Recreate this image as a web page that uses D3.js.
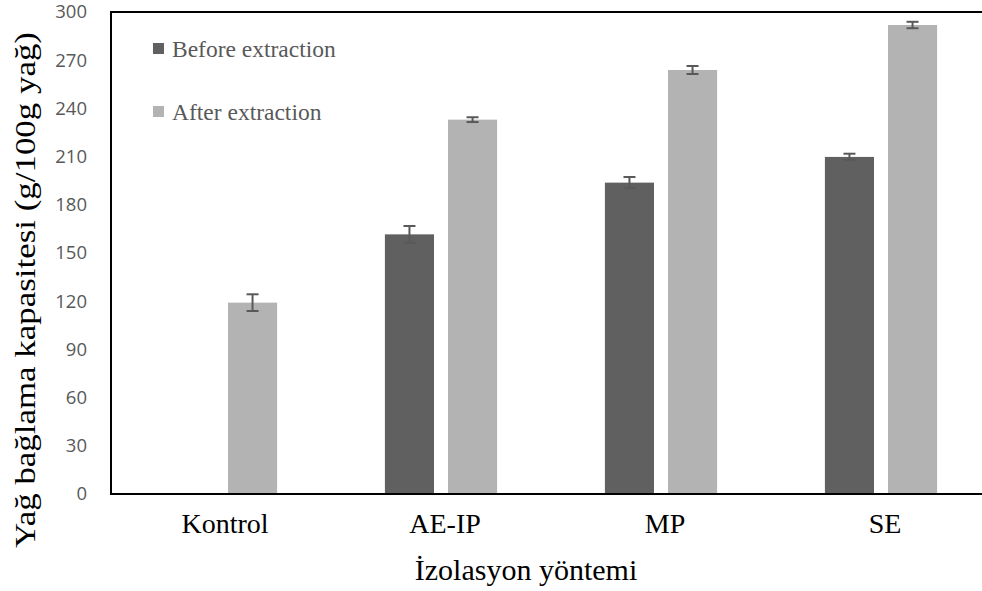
<!DOCTYPE html>
<html>
<head>
<meta charset="utf-8">
<script src="https://cdn.jsdelivr.net/npm/d3@7"></script>
<style>
  body { margin: 0; background: #fff; }
  svg { display: block; }
</style>
</head>
<body>
<svg id="chart" width="982" height="591"></svg>
<script>
// data
const methods = ["Kontrol", "AE-IP", "MP", "SE"];
const series = ["Before extraction", "After extraction"];
const beforeVals = [null, 161.6, 193.8, 209.8];
const beforeErr = [null, 5.2, 3.5, 2];
const afterVals = [119.1, 233, 263.9, 291.9];
const afterErr = [5.2, 1.5, 2.5, 2];
const yTicks = [0, 30, 60, 90, 120, 150, 180, 210, 240, 270, 300];

const colors = { "Before extraction": "#606060", "After extraction": "#b3b3b3" };
const serif = "'Liberation Serif', 'Times New Roman', serif";

const svg = d3.select("#chart");
const plotLeft = 111, plotTop = 12, plotBottom = 494, plotRight = 991;

const y = d3.scaleLinear().domain([0, 300]).range([plotBottom, plotTop]);
const x0 = d3.scaleBand().domain(methods).range([plotLeft, plotRight])
  .paddingInner(0.49).paddingOuter(0.245);
const x1 = d3.scaleBand().domain(series).range([0, x0.bandwidth()])
  .paddingInner(0.222);

const rows = [];
methods.forEach((m, i) => {
  if (beforeVals[i] != null) rows.push({ m, s: series[0], v: beforeVals[i], e: beforeErr[i] });
  if (afterVals[i] != null) rows.push({ m, s: series[1], v: afterVals[i], e: afterErr[i] });
});

// bars
svg.append("g").selectAll("rect")
  .data(rows)
  .enter().append("rect")
  .attr("x", d => x0(d.m) + x1(d.s))
  .attr("y", d => y(d.v))
  .attr("width", x1.bandwidth())
  .attr("height", d => y(0) - y(d.v))
  .attr("fill", d => colors[d.s]);

// error bars
const eb = svg.append("g").attr("stroke", "#595959").attr("stroke-width", 2);
rows.forEach(d => {
  const cx = x0(d.m) + x1(d.s) + x1.bandwidth() / 2;
  eb.append("line").attr("x1", cx).attr("x2", cx).attr("y1", y(d.v + d.e)).attr("y2", y(d.v - d.e));
  [d.v + d.e, d.v - d.e].forEach(v => {
    eb.append("line").attr("x1", cx - 6).attr("x2", cx + 6).attr("y1", y(v)).attr("y2", y(v));
  });
});

// y axis labels (no ticks)
const yAxis = svg.append("g")
  .attr("transform", `translate(${plotLeft},0)`)
  .call(d3.axisLeft(y).tickValues(yTicks).tickSize(0).tickPadding(24));
yAxis.select(".domain").remove();
yAxis.selectAll("text")
  .attr("fill", "#595959")
  .style("font-family", "'Open Sans', sans-serif")
  .style("font-size", "18.5px");

// x axis labels
const xAxis = svg.append("g")
  .attr("transform", `translate(0,${plotBottom})`)
  .call(d3.axisBottom(x0).tickSize(0).tickPadding(19));
xAxis.select(".domain").remove();
xAxis.selectAll("text")
  .attr("fill", "#000")
  .attr("dx", 4)
  .style("font-family", serif)
  .style("font-size", "28px");

// frame: left, top, bottom
svg.append("path")
  .attr("d", `M${plotRight},${plotTop}H${plotLeft}V${plotBottom}H${plotRight}`)
  .attr("fill", "none")
  .attr("stroke", "#000")
  .attr("stroke-width", 2);

// axis titles
svg.append("text")
  .attr("transform", "translate(35,290) rotate(-90)")
  .attr("text-anchor", "middle")
  .attr("textLength", 516)
  .attr("lengthAdjust", "spacingAndGlyphs")
  .style("font-family", serif)
  .style("font-size", "30px")
  .text("Yağ bağlama kapasitesi (g/100g yağ)");

svg.append("text")
  .attr("x", 526)
  .attr("y", 580)
  .attr("text-anchor", "middle")
  .style("font-family", serif)
  .style("font-size", "30px")
  .text("İzolasyon yöntemi");

// legend
const legend = svg.append("g");
series.forEach((s, i) => {
  const ly = 57 + i * 63;
  legend.append("rect").attr("x", 153).attr("y", ly - 14).attr("width", 11).attr("height", 11)
    .attr("fill", colors[s]);
  legend.append("text").attr("x", 172).attr("y", ly)
    .attr("fill", "#595959")
    .style("font-family", serif)
    .style("font-size", "23.5px")
    .text(s);
});
</script>
</body>
</html>
